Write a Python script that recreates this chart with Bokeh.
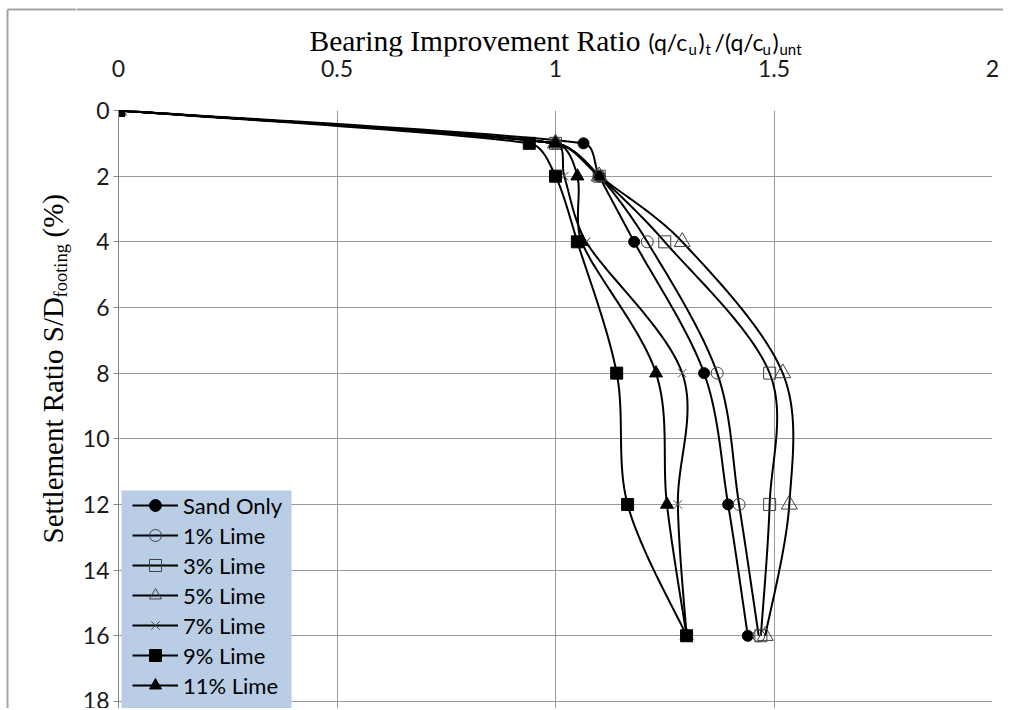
import numpy as np
from bokeh.plotting import figure
from bokeh.layouts import column, row
from bokeh.models import Range1d, FixedTicker, Legend, LegendItem, BoxAnnotation
from bokeh.core.properties import value
from bokeh.embed import file_html
from bokeh.resources import INLINE

# ---------------- data ----------------
settlement = [0, 1, 2, 4, 8, 12, 16]
sand_only = [0, 1.064, 1.10, 1.18, 1.34, 1.395, 1.44]
lime_1 = [0, 1.00, 1.10, 1.21, 1.37, 1.42, 1.465]
lime_3 = [0, 1.00, 1.10, 1.25, 1.49, 1.49, 1.47]
lime_5 = [0, 1.00, 1.10, 1.29, 1.52, 1.535, 1.48]
lime_7 = [0, 1.00, 1.02, 1.07, 1.29, 1.28, 1.30]
lime_9 = [0, 0.94, 1.00, 1.05, 1.14, 1.165, 1.30]
lime_11 = [0, 1.00, 1.05, 1.06, 1.23, 1.255, 1.30]

series_names = ["Sand Only", "1% Lime", "3% Lime", "5% Lime", "7% Lime", "9% Lime", "11% Lime"]
series_values = [sand_only, lime_1, lime_3, lime_5, lime_7, lime_9, lime_11]

x_ticks = [0, 0.5, 1, 1.5, 2]
x_tick_labels = ["0", "0.5", "1", "1.5", "2"]
y_ticks = [0, 2, 4, 6, 8, 10, 12, 14, 16, 18]

# ---------------- layout (page pixels) ----------------
W, H = 1003, 708
LW = 76               # left strip (y-axis title)
TOP_H = 94            # top strip (title + x tick labels)
TITLE_FRAME_H = 56    # frame part of the top strip
FRAME_L, FRAME_T, FRAME_R, FRAME_B = 118, 110, 992, 708
PX_PER_X = (FRAME_R - FRAME_L) / 2.0
PX_PER_Y = 32.83
Y_MAX = (FRAME_B - FRAME_T) / PX_PER_Y
BASE_SHIFT = 0.27     # svg text baseline compensation (fraction of font size)

serif = "Liberation Serif"
sans = "Lato"
border_color = "#a6a6a6"

marker_styles = [
    dict(marker="circle", size=11, fill_color="black", line_color="black", line_width=1),
    dict(marker="circle", size=12, fill_color=None, line_color="#404040", line_width=1),
    dict(marker="square", size=12, fill_color=None, line_color="#404040", line_width=1),
    dict(marker="triangle", size=16, fill_color=None, line_color="#404040", line_width=1),
    dict(marker="x", size=12, fill_color=None, line_color="#505050", line_width=1),
    dict(marker="square", size=12, fill_color="black", line_color="black", line_width=1),
    dict(marker="triangle", size=13, fill_color="black", line_color="black", line_width=1),
]


def smooth(xs, ys, n=24):
    """Smoothed line through the data points (Bezier, tangent length limited per segment)."""
    scale = np.array([PX_PER_X, PX_PER_Y])
    pts = np.column_stack([xs, ys]).astype(float) * scale
    m = len(pts)
    out = []
    for i in range(m - 1):
        p0 = pts[i - 1] if i > 0 else pts[i]
        p1 = pts[i]
        p2 = pts[i + 1]
        p3 = pts[i + 2] if i + 2 < m else pts[i + 1]
        seg = np.linalg.norm(p2 - p1) / 3.0
        t1 = (p2 - p0) / 6.0
        t2 = (p3 - p1) / 6.0
        n1, n2 = np.linalg.norm(t1), np.linalg.norm(t2)
        if n1 > seg and n1 > 0:
            t1 = t1 / n1 * seg
        if n2 > seg and n2 > 0:
            t2 = t2 / n2 * seg
        c1 = p1 + t1
        c2 = p2 - t2
        ts = np.linspace(0, 1, n, endpoint=(i == m - 2))
        for t in ts:
            b = ((1 - t) ** 3) * p1 + 3 * ((1 - t) ** 2) * t * c1 + 3 * (1 - t) * t * t * c2 + (t ** 3) * p2
            out.append(b)
    out = np.array(out) / scale
    return out[:, 0], out[:, 1]


def px_to_x(px):
    return (px - FRAME_L) / PX_PER_X


def strip(width, height, xr, yr, **kw):
    f = figure(width=width, height=height, title=None, x_range=xr, y_range=yr,
               y_axis_location=None, output_backend="svg", toolbar_location=None,
               min_border=0, min_border_left=0, min_border_right=0, min_border_top=0,
               background_fill_color="white", border_fill_color="white", **kw)
    f.outline_line_color = None
    f.grid.visible = False
    return f


# ---------------- left strip: y-axis title + chart border ----------------
lf = strip(LW, H, Range1d(0, LW), Range1d(H, 0), x_axis_location=None, min_border_bottom=0)
lf.line(x=[7, 7], y=[9, H], line_color=border_color, line_width=2)
lf.line(x=[7, LW], y=[9, 9], line_color=border_color, line_width=2)
ylabel_parts = [
    ("Settlement Ratio S/D", 29, 60, 543),
    ("footing", 18.5, 65, 297),
    ("(%)", 29, 60, 237),
]
for txt, size, px, py in ylabel_parts:
    lf.text(x=[px - BASE_SHIFT * size], y=[py], text=[txt], text_font=value(serif),
            text_font_size=value(f"{size}px"), text_color="black",
            text_align="left", text_baseline="alphabetic", angle=np.pi / 2)

# ---------------- top strip: title + x axis ----------------
tf = strip(W - LW, TOP_H, Range1d(px_to_x(LW), px_to_x(W)), Range1d(TITLE_FRAME_H, 0),
           x_axis_location="below", min_border_bottom=TOP_H - TITLE_FRAME_H)
tf.line(x=[px_to_x(LW), px_to_x(W)], y=[9, 9], line_color=border_color, line_width=2)
tf.xaxis.ticker = FixedTicker(ticks=x_ticks)
tf.xaxis.major_label_overrides = dict(zip(x_ticks, x_tick_labels))
tf.xaxis.axis_line_color = None
tf.xaxis.major_tick_out = 0
tf.xaxis.major_tick_in = 0
tf.xaxis.minor_tick_out = 0
tf.xaxis.minor_tick_in = 0
tf.xaxis.major_label_standoff = 3
tf.xaxis.major_label_text_font = sans
tf.xaxis.major_label_text_font_size = "23px"
tf.xaxis.major_label_text_color = "#1a1a1a"

title_parts = [
    ("Bearing Improvement Ratio", serif, 29.5, 309, 48),
    ("(q/c", sans, 23, 648, 48),
    ("u", sans, 15, 688, 53),
    (")", sans, 23, 698, 48),
    ("t", sans, 15, 705, 53),
    ("/(q/c", sans, 23, 714, 48),
    ("u", sans, 15, 762, 53),
    (")", sans, 23, 772, 48),
    ("unt", sans, 15, 779, 53),
]
for txt, font, size, px, py in title_parts:
    tf.text(x=[px_to_x(px)], y=[py - BASE_SHIFT * size], text=[txt], text_font=value(font),
            text_font_size=value(f"{size}px"), text_color="black",
            text_align="left", text_baseline="alphabetic")

# ---------------- main chart ----------------
p = figure(
    width=W - LW, height=H - TOP_H, title=None,
    x_range=Range1d(0, 2), y_range=Range1d(Y_MAX, 0),
    x_axis_location=None,
    output_backend="svg", toolbar_location=None,
    min_border_left=FRAME_L - LW, min_border_top=FRAME_T - TOP_H,
    min_border_right=W - FRAME_R, min_border_bottom=H - FRAME_B,
    background_fill_color="white", border_fill_color="white",
)
p.outline_line_color = None

p.yaxis.ticker = FixedTicker(ticks=y_ticks)
p.yaxis.axis_line_color = "#868686"
p.yaxis.major_tick_line_color = "#868686"
p.yaxis.major_tick_out = 5
p.yaxis.major_tick_in = 0
p.yaxis.minor_tick_out = 0
p.yaxis.minor_tick_in = 0
p.yaxis.major_label_standoff = 4
p.yaxis.major_label_text_font = sans
p.yaxis.major_label_text_font_size = "23px"
p.yaxis.major_label_text_color = "#1a1a1a"

p.xgrid.ticker = FixedTicker(ticks=x_ticks)
p.ygrid.ticker = FixedTicker(ticks=y_ticks)
for g in (p.xgrid, p.ygrid):
    g.grid_line_color = "#9a9a9a"
    g.grid_line_width = 1


def at(px, py):
    return (px - FRAME_L) / PX_PER_X, (py - FRAME_T) / PX_PER_Y


bl, bt = at(121, 490)
br, bb = at(291, 730)
p.add_layout(BoxAnnotation(left=bl, right=br, top=bt, bottom=bb,
                           fill_color="#b9cde5", fill_alpha=1.0, line_color=None))

items = []
for name, vals, ms in zip(series_names, series_values, marker_styles):
    sx, sy = smooth(vals, settlement)
    lr = p.line(sx, sy, line_color="black", line_width=2)
    sr = p.scatter(vals, settlement, **ms)
    items.append(LegendItem(label=name, renderers=[lr, sr]))

legend = Legend(
    items=items, location=(14, FRAME_B - 490 - 210), orientation="vertical",
    padding=0, margin=0, spacing=0,
    glyph_width=46, glyph_height=30, label_height=30, label_standoff=5,
    label_text_font=sans, label_text_font_size="22px", label_text_color="black",
    background_fill_alpha=0, border_line_color=None,
)
p.add_layout(legend)

layout = row(lf, column(row(tf), p))
open("out.html", "w").write(file_html(layout, INLINE))
